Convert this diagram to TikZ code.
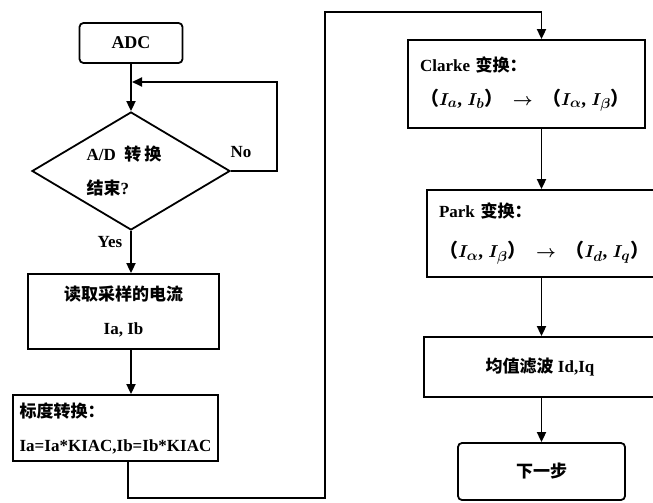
\documentclass[tikz,border=0pt]{standalone}
\usepackage{fontspec}
\usepackage{amsmath}
\setmainfont{Liberation Serif}
\newfontfamily\cjk{Noto Sans CJK SC}
\newcommand{\zh}[1]{{\cjk\bfseries #1}}
\usetikzlibrary{shapes,arrows.meta,positioning}

\begin{document}
\begin{tikzpicture}[x=1pt, y=-1pt, font=\fontsize{17}{34}\selectfont\bfseries\boldmath]
    % Define styles
    \tikzstyle{block} = [rectangle, draw=black, line width=1.8pt, inner xsep=6pt, inner ysep=0pt]
    \tikzstyle{terminal} = [block, rounded corners=4pt]
    \tikzstyle{decision} = [diamond, draw=black, line width=1.8pt, aspect=1.68, inner sep=0pt, minimum width=198pt, minimum height=118pt]
    \tikzstyle{arrow} = [line width=1.8pt, -{Triangle[length=10pt,width=9pt]}]
    \tikzstyle{tag} = [inner sep=0pt]

    \clip (0,0) rectangle (653,503);

    % Left column
    \node [terminal, minimum width=103pt, minimum height=40pt] (adc) at (131,43) {\fontsize{18}{20}\selectfont ADC};
    \node [decision, align=left] (check) at (131,171) {\hspace*{-14pt}A/D\ \ \zh{转\,换}\\\hspace*{-14pt}\zh{结束}?};
    \node [block, minimum width=191pt, minimum height=75pt, align=center] (read) at (123.5,311.5) {\zh{读取采样的电流}\\Ia, Ib};
    \node [block, minimum width=205pt, minimum height=66pt, align=left] (scale) at (115.5,428) {\zh{标度转换：}\\Ia=Ia*KIAC,Ib=Ib*KIAC};

    % Right column
    \node [block, inner xsep=12pt, minimum width=237pt, minimum height=88pt, align=left, text width=213pt] (clarke) at (526.5,84)
        {Clarke \zh{变换：}\\\fontsize{19}{34}\selectfont\zh{（}$I_a$,\;$I_b$\zh{）}\enspace$\rightarrow$\enspace\zh{（}$I_\alpha$,\;$I_\beta$\zh{）}};
    \node [block, inner xsep=12pt, minimum width=229pt, minimum height=87pt, align=left, text width=205pt] (park) at (541.5,233.5)
        {Park \zh{变换：}\\[6pt]\fontsize{19}{34}\selectfont\zh{（}$I_\alpha$,\;$I_\beta$\zh{）}\enspace$\rightarrow$\enspace\zh{（}$I_d$,\;$I_q$\zh{）}};
    \node [block, minimum width=232pt, minimum height=60pt] (mean) at (540,367) {\zh{均值滤波} Id,Iq};
    \node [terminal, minimum width=167pt, minimum height=57pt] (next) at (541.5,471.5) {\zh{下一步}};

    % Labels
    \node [tag] (no) at (241,152) {No};
    \node [tag] (yes) at (110,242) {Yes};

    % Bend points
    \coordinate (merge) at (131,82);
    \coordinate (low) at (325,498);
    \coordinate (high) at (325,12);

    % Arrows
    \draw [arrow] (adc.south) -- (check.north);
    \draw [arrow, shorten >=1pt] (check.east) -- ++(46,0) |- (merge);
    \draw [arrow] (check.south) -- (check.south |- read.north);
    \draw [arrow] (check.south |- read.south) -- (check.south |- scale.north);
    \draw [arrow] ([xshift=12.5pt]scale.south) |- (low) -- (high) -| (park.north |- clarke.north);
    \draw [arrow] (park.north |- clarke.south) -- (park.north);
    \draw [arrow] (park.south) -- (park.south |- mean.north);
    \draw [arrow] (next.north |- mean.south) -- (next.north);
\end{tikzpicture}
\end{document}
